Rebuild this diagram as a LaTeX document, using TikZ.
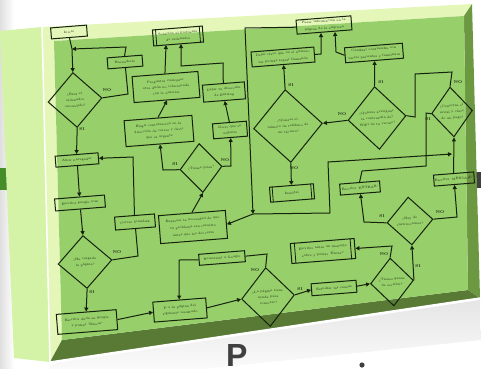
\documentclass[tikz,border=0pt]{standalone}
\usepackage{fontspec}
\newfontfamily\titulofont{Liberation Sans}
\usetikzlibrary{shapes.geometric,arrows.meta,calc}

\definecolor{verde}{RGB}{151,207,107}
\definecolor{biselClaro}{RGB}{228,247,184}
\definecolor{ladoClaro}{RGB}{212,243,166}
\definecolor{biselOscuro}{RGB}{88,122,53}
\definecolor{biselMedio}{RGB}{108,152,66}
\definecolor{colLinea}{RGB}{22,34,12}
\definecolor{barraVerde}{RGB}{70,140,40}

\tikzset{
  caja/.style={draw=colLinea, line width=1pt, text=colLinea, align=center,
    inner sep=1pt, font=\fontsize{3.1}{6}\selectfont, rotate=4.5},
  ancha/.style={font=\fontsize{3.1}{7.2}\selectfont},
  rombo/.style={caja, diamond, inner sep=0pt},
  flecha/.style={draw=colLinea, line width=1pt, -{Triangle[length=4pt,width=4pt]}},
  tramo/.style={draw=colLinea, line width=1pt},
  etiq/.style={font=\fontsize{3.8}{4}\selectfont\bfseries, text=colLinea,
    rotate=4.5, inner sep=0pt}
}

\begin{document}
\begin{tikzpicture}[x=1pt,y=-1pt]
  \useasboundingbox (0,0) rectangle (481,368);

  % Fondo
  \fill[white] (0,0) rectangle (481,368);
  \shade[left color=gray!25, right color=white] (0,0) rectangle (14,368);
  \shade[top color=gray!20, bottom color=white] (50,364) -- (480,300) -- (481,340) -- (50,385) -- cycle;
  \fill[barraVerde] (0,168) rectangle (24,190);
  \fill[black!75] (476,172) rectangle (481,188);
  \node[anchor=base west, inner sep=0pt, text=black!75,
    font=\titulofont\bfseries\fontsize{32}{32}\selectfont] (titulo) at (226,366) {P};
  \fill[black!75] (362,365) circle (2.6);

  % Tablero
  \fill[ladoClaro] (0,31) -- (42,27) -- (50,362) -- (14,358) -- cycle;
  \fill[biselClaro] (42,27) -- (472,4) -- (464,16) -- (54,41) -- cycle;
  \fill[biselClaro] (42,27) -- (54,41) -- (62,340) -- (50,362) -- cycle;
  \fill[biselOscuro] (62,340) -- (468,290) -- (480,298) -- (50,362) -- cycle;
  \fill[biselMedio] (464,16) -- (472,4) -- (480,298) -- (468,290) -- cycle;
  \fill[verde] (54,41) -- (464,16) -- (468,290) -- (62,340) -- cycle;
  \draw[white, line width=1.5pt] (42,27) -- (50,362) -- (480,298);

  % Cajas y decisiones
  \node[caja, minimum width=36, minimum height=11] (inicio) at (69,32) {Inicio};
  \node[caja, minimum width=35, minimum height=11] (encender) at (125,62) {Encenderlo};
  \node[rombo, minimum width=54, minimum height=55] (dEnc) at (75,100) {¿Está el\\ordenador\\encendido?};
  \node[caja, minimum width=43, minimum height=11] (navegador) at (77,160) {Abrir navegador};
  \node[caja, minimum width=50, minimum height=12] (google) at (80,203) {Escribir google.com};
  \node[rombo, minimum width=54, minimum height=53] (dCarga) at (85,262) {¿Ha cargado\\la página?};
  \node[caja, minimum width=40, minimum height=13] (scandisk) at (135,222) {Cerrar Scandisk};
  \node[caja, minimum width=60, minimum height=20] (duda) at (87,322) {Escribir duda en google\\y pulsar `Buscar'};
  \node[caja, minimum width=53, minimum height=20] (siguiente) at (180,310) {Ir a la página del\\siguiente resultado};
  \node[caja, minimum width=46, minimum height=11] (reinstalar) at (222,258) {Reinstalar a Google};
  \node[rombo, minimum width=53, minimum height=59] (dAyuda) at (268,297) {¿La página tiene\\ayuda para\\conectar?};
  \node[caja, minimum width=45, minimum height=12] (causas) at (334,288) {Estudiar las causas};
  \node[rombo, minimum width=43, minimum height=48] (dGanas) at (392,282) {¿Tienes ganas\\de escribir?};
  \node[caja, ancha, minimum width=64, minimum height=20] (enviar) at (323,251) {Escribir antes un mensaje\\sobre y pulsar `Enviar'};
  \node[rombo, minimum width=46, minimum height=48] (dInstr) at (410,221) {¿Hay de\\instrucciones?};
  \node[caja, minimum width=40, minimum height=11] (entrar) at (360,188) {Escribir `ENTRAR'};
  \node[caja, minimum width=38, minimum height=11] (mensaje) at (454,179) {Escribir `MENSAJE'};
  \node[rombo, minimum width=41, minimum height=50] (dSerial) at (452,112) {¿Conectas el\\serial y clave\\de un pago?};
  \node[rombo, minimum width=58, minimum height=63] (dWifi) at (377,118) {¿Quieres averiguar\\la contraseña del\\WiFi de tu vecino?};
  \node[caja, ancha, minimum width=58, minimum height=15] (familia) at (374,53) {Cambiar contraseña con\\varios parientes y familiares};
  \node[rombo, minimum width=69, minimum height=73] (dTelf) at (288,126) {¿Quieres el\\número de teléfono de\\un técnico?};
  \node[caja, ancha, minimum width=63, minimum height=15] (claro) at (283,57) {Dejar claro que en el número\\los podrás seguir llamando};
  \node[caja, minimum width=44, minimum height=15] (insultar) at (292,193) {Insultar};
  \node[caja, ancha, minimum width=55, minimum height=14] (info) at (324,25) {Pasar información en la\\página de la empresa};
  \node[caja, ancha, minimum width=67, minimum height=28] (expresar) at (193,227) {Expresar la necesidad de que\\tu problema sea resuelto\\antes que los del resto};
  \node[rombo, minimum width=42, minimum height=49] (dPrisa) at (201,168) {¿Tienes prisa?};
  \node[caja, minimum width=68, minimum height=26] (elegir) at (159,131) {Elegir contestación en la\\dirección de correo y decir\\que es urgente};
  \node[caja, minimum width=34, minimum height=15] (urgente) at (230,130) {Decir que es\\urgente};
  \node[caja, minimum width=66, minimum height=26] (preguntar) at (166,87) {Preguntar cualquier\\otra duda no relacionada\\con lo anterior};
  \node[caja, minimum width=42, minimum height=17] (entring) at (224,92) {Dejar tu dirección\\de Entring};
  \node[caja, minimum width=50, minimum height=16] (solucion) at (178,36) {Solución al problema\\de ordenador};

  % Rayas dobles de los procesos
  \foreach \n in {solucion,insultar,enviar}{
    \draw[colLinea, line width=0.8pt] ($(\n.north west)!0.07!(\n.north east)$) -- ($(\n.south west)!0.07!(\n.south east)$);
    \draw[colLinea, line width=0.8pt] ($(\n.north west)!0.93!(\n.north east)$) -- ($(\n.south west)!0.93!(\n.south east)$);
  }

  % Conexiones
  \coordinate (j1) at (72,49);
  \coordinate (j2) at (253,214);
  \draw[tramo] (inicio.south) -- (j1);
  \draw[flecha] (j1) -- (dEnc.north);
  \draw[flecha] (encender.north) -- (126,47) -- (j1);
  \draw[tramo] (dEnc.east) -- (128,94) -- (encender.south);
  \draw[flecha] (dEnc.south) -- (navegador.north);
  \draw[flecha] (navegador.south) -- (google.north);
  \draw[flecha] (google.south) -- (dCarga.north);
  \draw[tramo] (dCarga.east) -- (138,256) -- (scandisk.south);
  \draw[flecha] (scandisk.north) -- (133,157) -- (navegador.east);
  \draw[flecha] (dCarga.south) -- (duda.north);
  \draw[flecha] (duda.east) -- (siguiente.west);
  \draw[flecha] (siguiente.east) -- (dAyuda.west);
  \draw[tramo] (dAyuda.north) -- (267,254) -- (reinstalar.east);
  \draw[flecha] (reinstalar.west) -- (179,260) -- (siguiente.north);
  \draw[flecha] (dAyuda.east) -- (causas.west);
  \draw[flecha] (causas.east) -- (dGanas.west);
  \draw[flecha] (dGanas.north) -- (392,246) -- (enviar.east);
  \draw[flecha] (dGanas.east) -- (dInstr.south);
  \draw[flecha] (dInstr.west) -- (364,222) -- (entrar.south);
  \draw[flecha] (dInstr.east) -- (457,217) -- (mensaje.south);
  \draw[flecha] (mensaje.north) -- (dSerial.south);
  \draw[tramo] (dSerial.west) -- (426,113) -- (426,166) -- (362,171) -- (entrar.north);
  \draw[flecha] (330,213) -- (328,162) -- (452,154);
  \draw[tramo] (dSerial.north) -- (452,72) -- (415,74) -- (415,117) -- (dWifi.east);
  \draw[flecha] (dWifi.west) -- (dTelf.east);
  \draw[flecha] (dWifi.north) -- (familia.south);
  \draw[flecha] (dTelf.north) -- (claro.south);
  \draw[flecha] (dTelf.south) -- (insultar.north);
  \draw[flecha] (claro.east) -- (321,54) -- (321,33);
  \draw[flecha] (familia.west) -- (336,52) -- (335,32);
  \draw[flecha] (info.west) -- (245,28) -- (j2);
  \draw[flecha] (330,213) -- (j2) -- (expresar.east);
  \draw[flecha] (expresar.north) -- (dPrisa.south);
  \draw[flecha] (dPrisa.west) -- (163,170) -- (elegir.south);
  \draw[flecha] (dPrisa.east) -- (231,166) -- (urgente.south);
  \draw[flecha] (elegir.north) -- (preguntar.south);
  \draw[flecha] (urgente.north) -- (entring.south);
  \draw[flecha] (preguntar.north) -- (166,45);
  \draw[flecha] (entring.north) -- (223,63) -- (181,66) -- (181,44);

  % Etiquetas SI / NO
  \node[etiq] (noEnc) at (107,90) {NO};
  \node[etiq] (siEnc) at (82,129) {SI};
  \node[etiq] (noCarga) at (117,252) {NO};
  \node[etiq] (siCarga) at (92,292) {SI};
  \node[etiq] (noAyuda) at (255,270) {NO};
  \node[etiq] (siAyuda) at (300,289) {SI};
  \node[etiq] (noGanas) at (384,254) {NO};
  \node[etiq] (siGanas) at (418,266) {SI};
  \node[etiq] (siInstr) at (382,216) {SI};
  \node[etiq] (noInstr) at (440,212) {NO};
  \node[etiq] (siSerial) at (428,119) {SI};
  \node[etiq] (noSerial) at (458,82) {NO};
  \node[etiq] (siWifi) at (381,82) {SI};
  \node[etiq] (noWifi) at (342,114) {NO};
  \node[etiq] (siTelf) at (291,85) {SI};
  \node[etiq] (noTelf) at (294,168) {NO};
  \node[etiq] (siPrisa) at (175,164) {SI};
  \node[etiq] (noPrisa) at (225,160) {NO};
\end{tikzpicture}
\end{document}
